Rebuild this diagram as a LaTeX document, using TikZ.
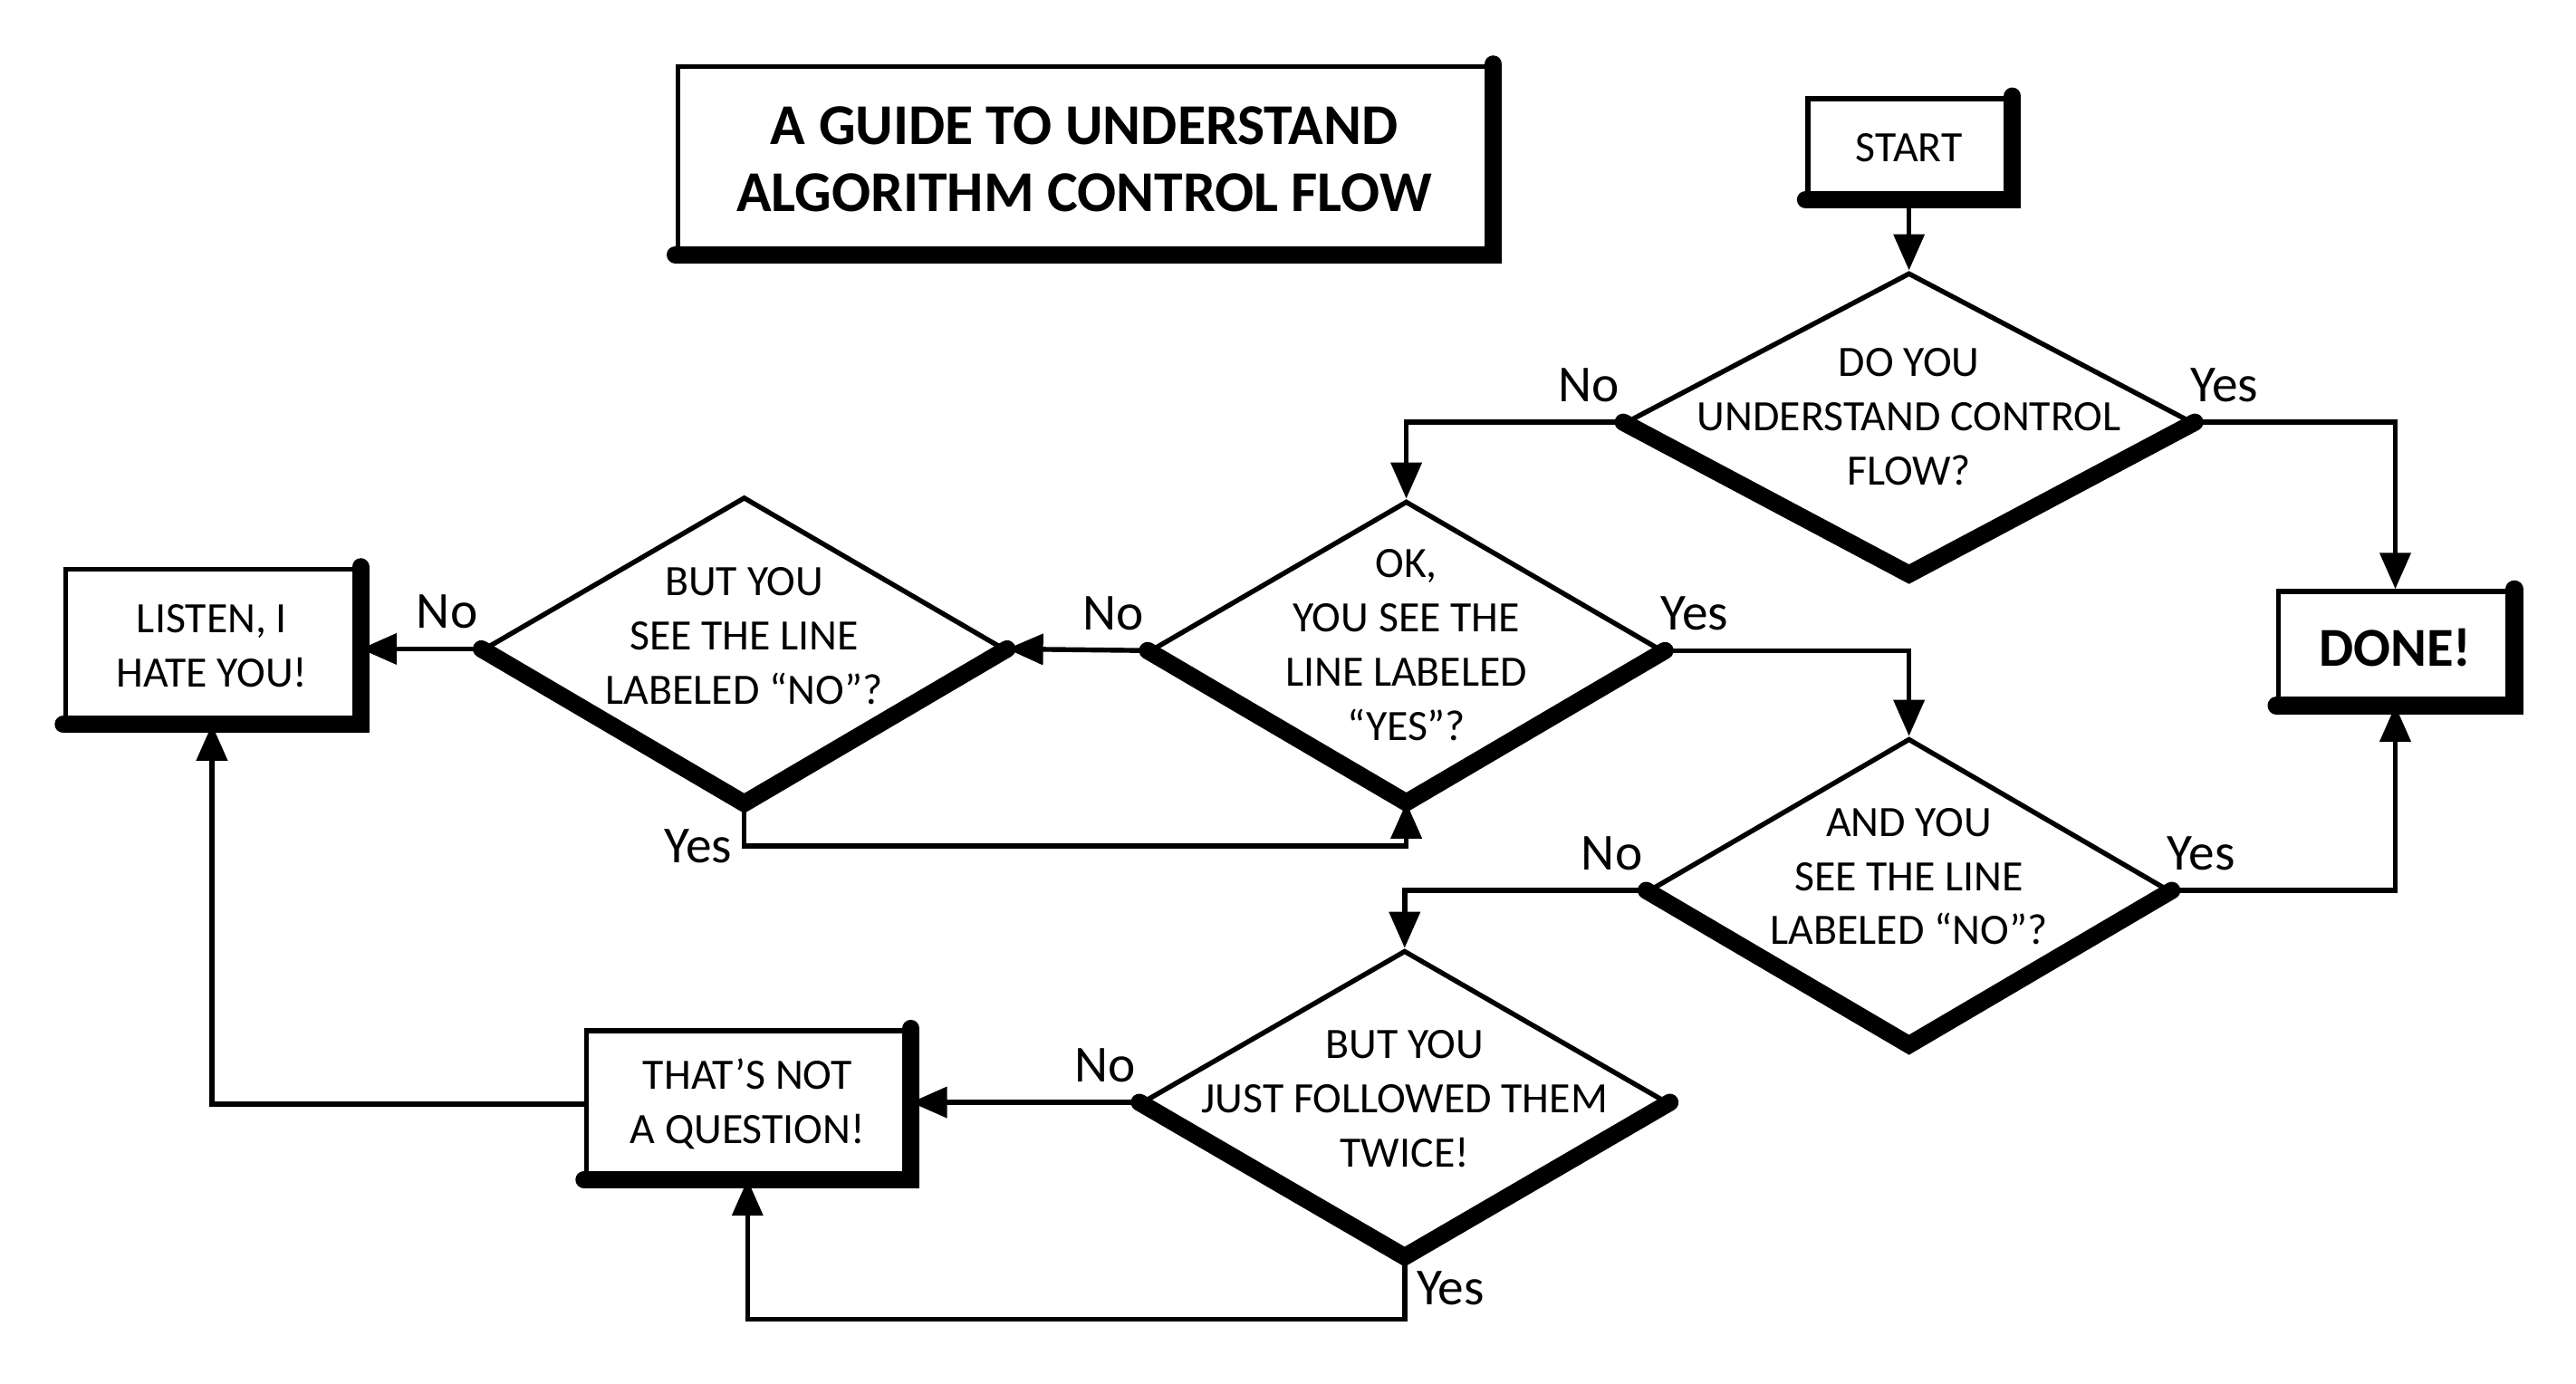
\documentclass[tikz,border=0pt]{standalone}
\usepackage{fontspec}
\setmainfont{Carlito}
\usetikzlibrary{shapes.geometric, arrows.meta}
\newcommand{\qfont}{\fontsize{15}{18.8}\selectfont}
\newcommand{\lblfont}{\fontsize{18}{20}\selectfont}
\newcommand{\headfont}{\fontsize{20}{23.3}\selectfont\bfseries}
\tikzset{link/.style={line width=1.7pt}}
\tikzset{flow/.style={link, -{Triangle[length=0.44cm, width=0.37cm]}}}
\tikzset{box/.style={draw, link, align=center, font=\qfont}}
\tikzset{decision/.style={draw, diamond, link, inner sep=0pt}}
\tikzset{qtext/.style={align=center, font=\qfont}}
\tikzset{heavy/.style={line width=6pt, line cap=round, line join=miter}}
\tikzset{lblno/.style={font=\lblfont, above left, xshift=0.1cm, yshift=0.1cm}}
\tikzset{lblyes/.style={font=\lblfont, above right, xshift=-0.2cm, yshift=0.1cm}}

\begin{document}
\begin{tikzpicture}[x=0.02cm, y=-0.02cm]
    \useasboundingbox (0,0) rectangle (1568,842);

    % boxes
    \node[box, font=\headfont, minimum width=9.9cm, minimum height=2.26cm] (title) at (660,97) {A GUIDE TO UNDERSTAND\\ALGORITHM CONTROL FLOW};
    \node[box, minimum width=2.46cm, minimum height=1.2cm] (start) at (1162,90) {START};
    \node[box, font=\fontsize{19}{22}\selectfont\bfseries, minimum width=2.84cm, minimum height=1.36cm] (done) at (1458,394) {DONE!};
    \node[box, minimum width=3.56cm, minimum height=1.86cm] (listen) at (129,393) {LISTEN, I\\HATE YOU!};
    \node[box, minimum width=3.92cm, minimum height=1.78cm] (notq) at (455,672) {THAT’S NOT\\A QUESTION!};

    % questions
    \node[decision, minimum width=6.9cm, minimum height=3.64cm,
        label={[qtext, yshift=0.07cm]center:{DO YOU\\UNDERSTAND CONTROL\\FLOW?}}] (q1) at (1162,257) {};
    \node[decision, minimum width=6.24cm, minimum height=3.64cm,
        label={[qtext, yshift=0.07cm]center:{OK,\\YOU SEE THE\\LINE LABELED\\“YES”?}}] (q2) at (856,396) {};
    \node[decision, minimum width=6.34cm, minimum height=3.7cm,
        label={[qtext, yshift=0.16cm]center:{BUT YOU\\SEE THE LINE\\LABELED “NO”?}}] (q3) at (453,395) {};
    \node[decision, minimum width=6.34cm, minimum height=3.7cm,
        label={[qtext, yshift=0.17cm]center:{AND YOU\\SEE THE LINE\\LABELED “NO”?}}] (q4) at (1162,542) {};
    \node[decision, minimum width=6.4cm, minimum height=3.7cm,
        label={[qtext, yshift=0.04cm]center:{BUT YOU\\JUST FOLLOWED THEM\\TWICE!}}] (q5) at (855,671) {};

    % heavy lower edges
    \foreach \b in {title, start, done, listen, notq}
        \draw[heavy, xshift=0.5pt, yshift=-1.5pt] (\b.south west) -- (\b.south east) -- (\b.north east);
    \foreach \d in {q1, q2, q3, q4, q5}
        \draw[heavy, yshift=-2pt] (\d.west) -- (\d.south) -- (\d.east);

    % connectors
    \draw[flow] (start.south) -- (q1.north);
    \draw[flow] (q1.west) node[lblno] (q1no) {No} -| (q2.north);
    \draw[flow] (q1.east) node[lblyes] (q1yes) {Yes} -| (done.north);
    \draw[flow] (q2.west) node[lblno] (q2no) {No} -- (q3.east);
    \draw[flow] (q2.east) node[lblyes] (q2yes) {Yes} -| (q4.north);
    \draw[flow] (q3.west) node[lblno] (q3no) {No} -- (q3.west -| listen.east);
    \draw[flow] (q3.south) -- ++(0,26) node[font=\lblfont, left] (q3yes) {Yes} -| (q2.south);
    \draw[flow] (q4.east) node[lblyes] (q4yes) {Yes} -| (done.south);
    \draw[flow] (q4.west) node[lblno] (q4no) {No} -| (q5.north);
    \draw[flow] (q5.west) node[lblno] (q5no) {No} -- (q5.west -| notq.east);
    \draw[flow] (q5.south) -- node[font=\lblfont, right] (q5yes) {Yes} ++(0,38) -| (notq.south);
    \draw[flow] (notq.west) -| (listen.south);
\end{tikzpicture}
\end{document}
